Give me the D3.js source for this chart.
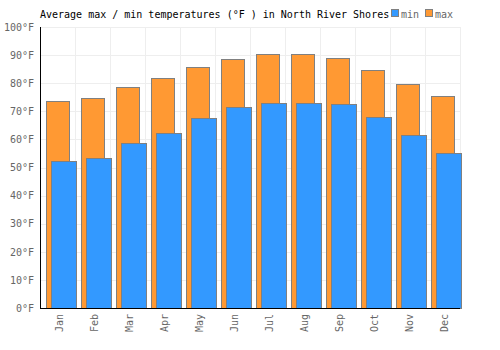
<!DOCTYPE html>
<html>
<head>
<meta charset="utf-8">
<script src="https://cdn.jsdelivr.net/npm/d3@7"></script>
<style>
body { margin: 0; background: #fff; }
text { font-family: "DejaVu Sans Mono", monospace; }
</style>
</head>
<body>
<script>
// data
const months = ["Jan","Feb","Mar","Apr","May","Jun","Jul","Aug","Sep","Oct","Nov","Dec"];
const maxTemps = [73.7, 74.6, 78.6, 81.9, 85.8, 88.6, 90.4, 90.4, 89.0, 84.7, 79.6, 75.3];
const minTemps = [52.2, 53.4, 58.7, 62.3, 67.5, 71.5, 72.9, 72.9, 72.5, 67.9, 61.5, 55.1];
const yTicks = [0, 10, 20, 30, 40, 50, 60, 70, 80, 90, 100];

const width = 500, height = 350;
const margin = {top: 27, right: 40, bottom: 42, left: 40};
const w = width - margin.left - margin.right;
const h = height - margin.top - margin.bottom;

const svg = d3.select("body").append("svg")
    .attr("width", width)
    .attr("height", height);

const g = svg.append("g")
    .attr("transform", `translate(${margin.left},${margin.top})`);

const X = d3.scaleBand().domain(months).range([0, w]).padding(0);
const Y = d3.scaleLinear().domain([0, 100]).range([h, 0]);
const bw = X.bandwidth();

// grid
g.append("g").selectAll("line.h").data(yTicks).enter().append("line")
    .attr("x1", 0).attr("x2", w)
    .attr("y1", d => Math.round(Y(d)) + 0.5).attr("y2", d => Math.round(Y(d)) + 0.5)
    .attr("stroke", "#eeeeee");
g.append("g").selectAll("line.v").data(months.concat(["end"])).enter().append("line")
    .attr("x1", (d, i) => Math.round(i * bw) + 0.5).attr("x2", (d, i) => Math.round(i * bw) + 0.5)
    .attr("y1", 0).attr("y2", h)
    .attr("stroke", "#eeeeee");

// max bars
g.selectAll(".maxbar").data(maxTemps).enter().append("rect").classed("maxbar", true)
    .attr("x", (d, i) => Math.round(X(months[i]) + bw * 0.17) + 0.5)
    .attr("width", Math.round(bw * 0.66))
    .attr("y", d => Math.round(Y(d)) + 0.5)
    .attr("height", d => h - Math.round(Y(d)))
    .attr("fill", "#ff9933")
    .attr("stroke", "#808080");

// min bars
g.selectAll(".minbar").data(minTemps).enter().append("rect").classed("minbar", true)
    .attr("x", (d, i) => Math.round(X(months[i]) + bw * 0.31) + 0.5)
    .attr("width", Math.round(bw * 0.7))
    .attr("y", d => Math.round(Y(d)) + 0.5)
    .attr("height", d => h - Math.round(Y(d)))
    .attr("fill", "#3399ff")
    .attr("stroke", "#808080");

// axes
const yaxis = g.append("g").call(d3.axisLeft(Y).tickValues(yTicks).tickSize(0).tickPadding(6).tickFormat(d => d + "°F"));
yaxis.select(".domain").remove();
yaxis.selectAll("text").attr("fill", "#666").style("font-size", "10px");

g.append("line").attr("x1", 0.5).attr("x2", 0.5).attr("y1", 0).attr("y2", h).attr("stroke", "#000");
g.append("line").attr("x1", 0).attr("x2", w).attr("y1", h + 0.5).attr("y2", h + 0.5).attr("stroke", "#000");

g.append("g").selectAll("text.m").data(months).enter().append("text")
    .attr("transform", d => `translate(${X(d) + bw / 2 + 5},${h + 6}) rotate(-90)`)
    .attr("text-anchor", "end")
    .attr("fill", "#666")
    .style("font-size", "10px")
    .text(d => d);

// title and legend
svg.append("text").attr("x", 40).attr("y", 18)
    .style("font-size", "10px").attr("fill", "#000")
    .text("Average max / min temperatures (°F ) in North River Shores");

const legend = svg.append("g");
const items = [{name: "min", color: "#3399ff"}, {name: "max", color: "#ff9933"}];
items.forEach((it, i) => {
    const lx = 391 + i * 34;
    legend.append("rect").attr("x", lx + 0.5).attr("y", 9.5).attr("width", 7).attr("height", 7)
        .attr("fill", it.color).attr("stroke", "#808080");
    legend.append("text").attr("x", lx + 10).attr("y", 18)
        .style("font-size", "10px").attr("fill", "#666").text(it.name);
});
</script>
</body>
</html>
